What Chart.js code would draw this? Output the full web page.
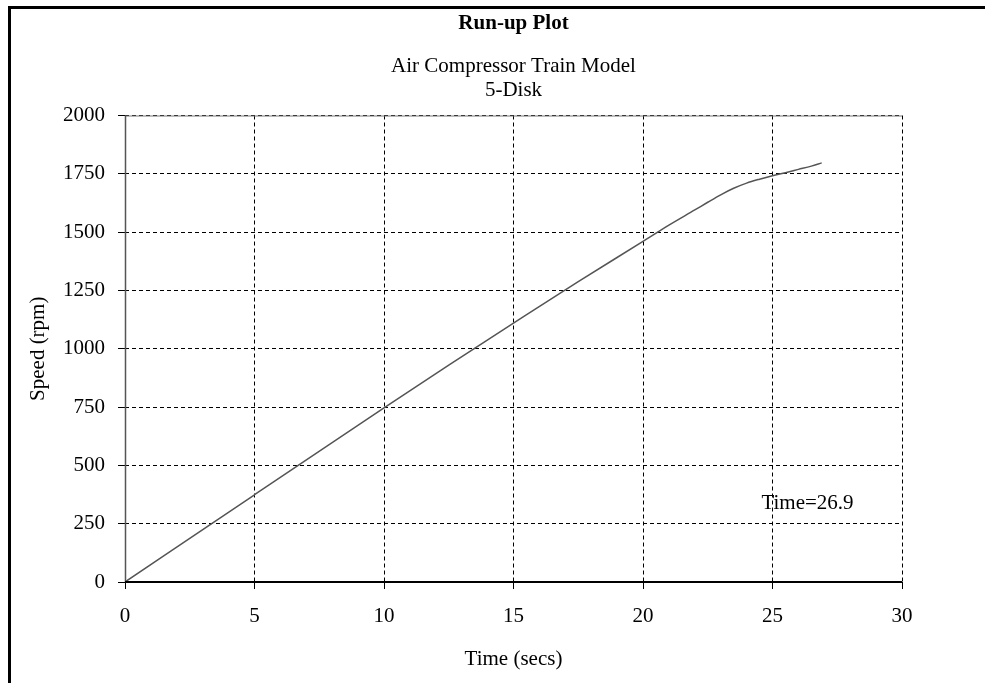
<!DOCTYPE html>
<html lang="en">
  <head>
    <meta charset="UTF-8" />
    <style>
      body { margin: 0; background: #fff; }
      #wrap { position: relative; width: 985px; height: 683px; }
      #frame {
        position: absolute; left: 8px; top: 6px; right: 0; bottom: 0;
        border-left: 3px solid #000; border-top: 3px solid #000;
      }
      #myChart { position: absolute; left: 0; top: 0; }
    </style>
  </head>
  <body>
    <div id="wrap">
      <div id="frame"></div>
      <canvas id="myChart" width="985" height="683"></canvas>
    </div>
    <script src="https://cdn.jsdelivr.net/npm/chart.js@4.4.0/dist/chart.umd.min.js"></script>

    <script>
      // run-up curve: time (s) vs shaft speed (rpm)
      var times = [0, 5, 10, 12.5, 15, 17.5, 20, 21, 22, 22.5, 23, 23.5, 24, 24.5, 25, 25.5, 26, 26.5, 26.9];
      var speeds = [0, 374, 746, 930, 1110, 1288, 1460, 1530, 1595, 1628, 1660, 1688, 1710, 1727, 1742, 1755, 1769, 1783, 1797];
      var xTicks = [0, 5, 10, 15, 20, 25, 30];
      var yTicks = [0, 250, 500, 750, 1000, 1250, 1500, 1750, 2000];

      var serif = "'Liberation Serif', 'Times New Roman', serif";
      Chart.defaults.font.family = serif;
      Chart.defaults.font.size = 21;
      Chart.defaults.color = "#000";

      var points = times.map(function (t, i) {
        return { x: t, y: speeds[i] };
      });

      // solid axis lines, solid top frame, end-time label
      var extras = {
        id: "extras",
        afterDatasetsDraw: function (chart) {
          var ctx = chart.ctx;
          var a = chart.chartArea;
          var xs = chart.scales.x;
          var ys = chart.scales.y;
          var x0 = Math.round(xs.getPixelForValue(0));
          var y0 = Math.round(ys.getPixelForValue(0));
          ctx.save();
          ctx.strokeStyle = "#777";
          ctx.lineWidth = 1;
          ctx.beginPath();
          ctx.moveTo(a.left, a.top + 0.5);
          ctx.lineTo(a.right, a.top + 0.5);
          ctx.stroke();
          ctx.strokeStyle = "#555";
          ctx.lineWidth = 1.5;
          ctx.beginPath();
          ctx.moveTo(x0 + 0.5, a.top);
          ctx.lineTo(x0 + 0.5, y0);
          ctx.stroke();
          ctx.strokeStyle = "#000";
          ctx.lineWidth = 2;
          ctx.beginPath();
          ctx.moveTo(a.left, y0);
          ctx.lineTo(a.right, y0);
          ctx.stroke();
          ctx.fillStyle = "#000";
          ctx.font = "21px " + serif;
          ctx.textAlign = "center";
          ctx.textBaseline = "middle";
          var tEnd = times[times.length - 1];
          ctx.fillText("Time=" + tEnd, xs.getPixelForValue(26.35), ys.getPixelForValue(335));
          ctx.restore();
        },
      };

      var ctx = document.getElementById("myChart").getContext("2d");
      var chart = new Chart(ctx, {
        type: "line",
        data: {
          datasets: [
            {
              data: points,
              borderColor: "#555",
              borderWidth: 1.5,
              pointRadius: 0,
              cubicInterpolationMode: "monotone",
              fill: false,
            },
          ],
        },
        options: {
          responsive: false,
          animation: false,
          layout: { padding: { top: 0, right: 83, bottom: 0, left: 0 } },
          plugins: {
            legend: { display: false },
            tooltip: { enabled: false },
            title: {
              display: true,
              fullSize: false,
              text: "Run-up Plot",
              font: { size: 21, weight: "bold" },
              padding: { top: 11, bottom: 18 },
            },
            subtitle: {
              display: true,
              fullSize: false,
              text: ["Air Compressor Train Model", "5-Disk"],
              font: { size: 21, lineHeight: 1.15 },
              color: "#000",
              padding: { top: 0, bottom: 13 },
            },
          },
          scales: {
            x: {
              type: "linear",
              min: 0,
              max: 30,
              afterBuildTicks: function (s) {
                s.ticks = xTicks.map(function (v) { return { value: v }; });
              },
              afterFit: function (s) { s.height = 101; },
              ticks: {
                padding: 15,
                maxRotation: 0,
                callback: function (v) { return String(v); },
              },
              grid: { color: "#000", lineWidth: 1, tickLength: 7, tickColor: "#000" },
              border: { display: false, dash: [4, 3] },
              title: { display: true, text: "Time (secs)", padding: { top: 0, bottom: 11 } },
            },
            y: {
              min: 0,
              max: 2000,
              afterBuildTicks: function (s) {
                s.ticks = yTicks.map(function (v) { return { value: v }; });
              },
              afterFit: function (s) { s.width = 125; },
              ticks: {
                padding: 13,
                callback: function (v) { return String(v); },
              },
              grid: { color: "#000", lineWidth: 1, tickLength: 7, tickColor: "#000" },
              border: { display: false, dash: [4, 3] },
              title: { display: true, text: "Speed (rpm)", padding: { top: 26, bottom: 0 } },
            },
          },
        },
        plugins: [extras],
      });
    </script>
  </body>
</html>
